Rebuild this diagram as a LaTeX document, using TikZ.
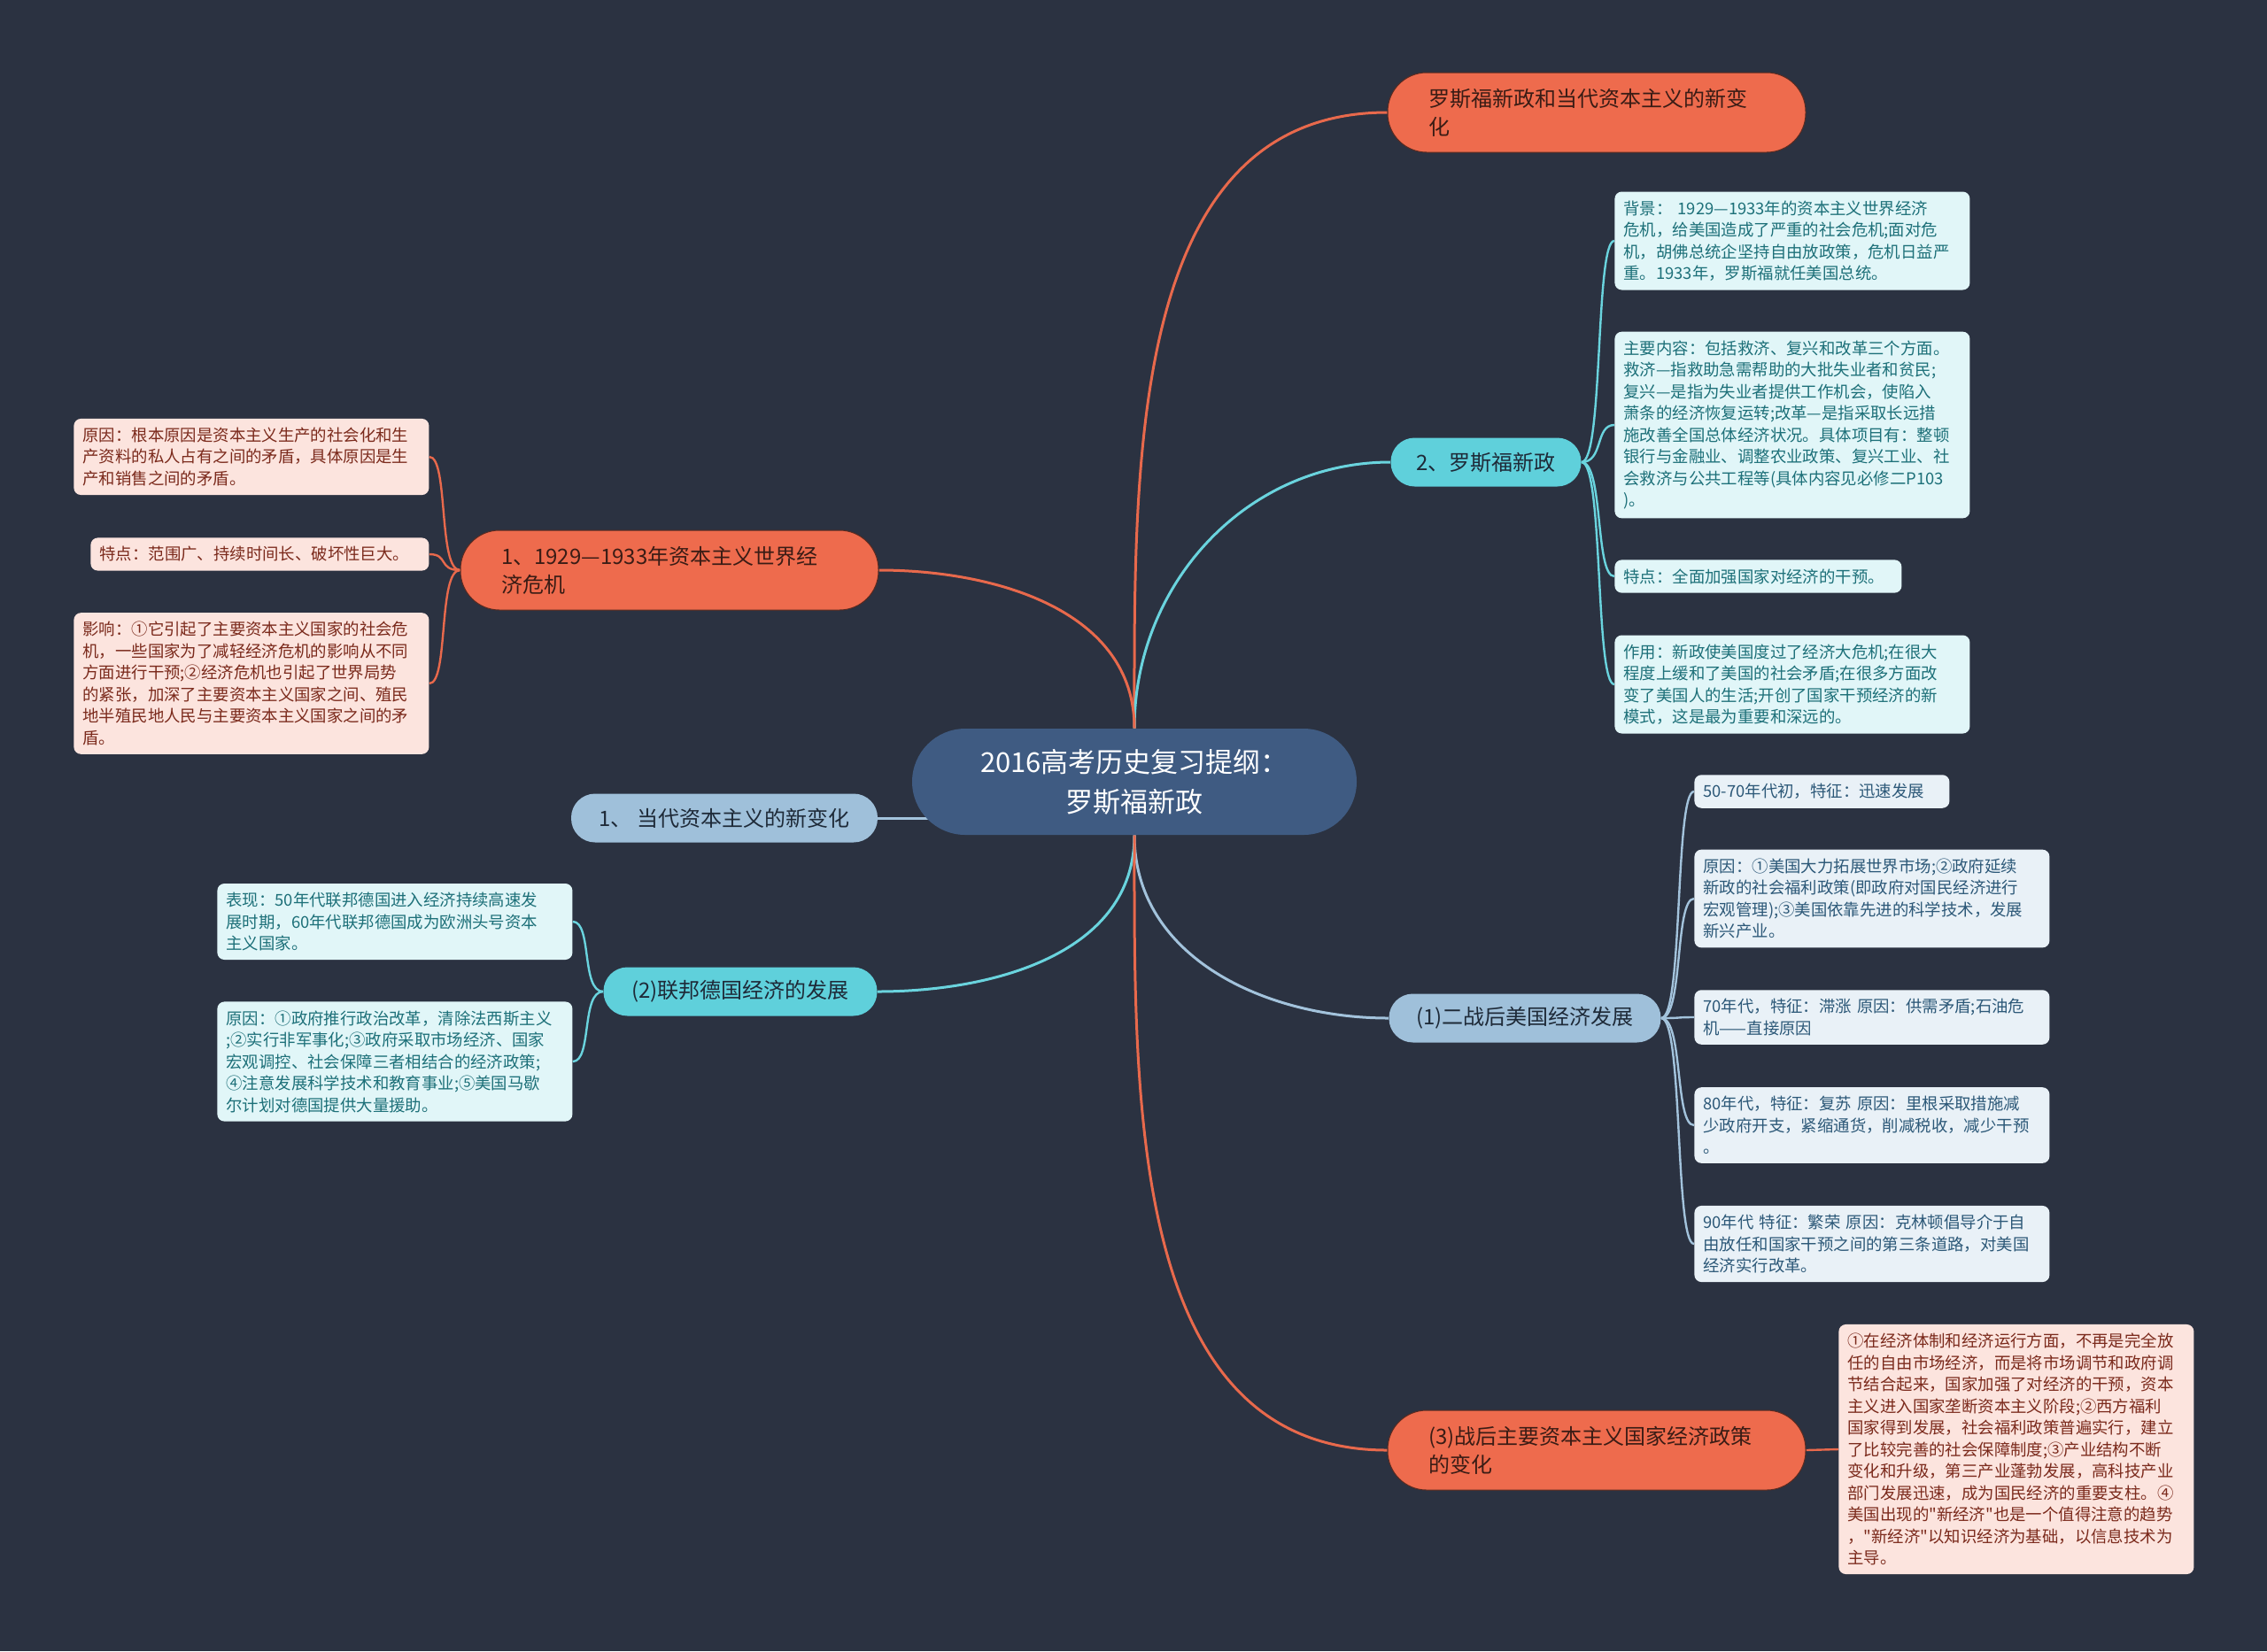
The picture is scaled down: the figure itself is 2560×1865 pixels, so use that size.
\documentclass[tikz,border=0pt]{standalone}
\usepackage{fontspec}
\newfontfamily\zhfont{Noto Sans CJK SC}
\usetikzlibrary{positioning}
\pgfdeclarelayer{bg}
\pgfsetlayers{bg,main}

\definecolor{bgcol}{HTML}{2B3241}
\definecolor{hubfill}{HTML}{3F5B82}
\definecolor{orfill}{HTML}{EE6B4D}
\definecolor{ordraw}{HTML}{5A2A20}
\definecolor{ortext}{HTML}{3A1C15}
\definecolor{cyfill}{HTML}{5FD0DB}
\definecolor{blfill}{HTML}{9FC0DA}
\definecolor{brtext}{HTML}{1E2A38}
\definecolor{pkfill}{HTML}{FCE4DE}
\definecolor{pktext}{HTML}{7B2A1C}
\definecolor{lcfill}{HTML}{E1F6F8}
\definecolor{lctext}{HTML}{1D7079}
\definecolor{lbfill}{HTML}{E9F1F7}
\definecolor{lbtext}{HTML}{2C5878}
\definecolor{orln}{HTML}{E8694C}
\definecolor{cyln}{HTML}{6AD4DE}
\definecolor{blln}{HTML}{A3C3DC}

\newcommand{\lfsize}{\zhfont\fontsize{9.2pt}{12.25pt}\selectfont}
\newcommand{\brsize}{\zhfont\fontsize{12pt}{16pt}\selectfont}
\newcommand{\hubsize}{\zhfont\fontsize{15.5pt}{22.5pt}\selectfont}

\begin{document}
\begin{tikzpicture}[x=0.5pt, y=-0.5pt,
    hub/.style={rounded corners=30pt, fill=hubfill, text=white, font=\hubsize, align=center, minimum width=251pt, minimum height=60pt},
    brO/.style={rounded corners=22pt, fill=orfill, draw=ordraw, line width=0.5pt, text=ortext, font=\brsize, align=left, text width=190pt, inner xsep=23pt, minimum height=45pt},
    brS/.style={rounded corners=13.5pt, text=brtext, font=\brsize, minimum height=27.5pt},
    brC/.style={brS, fill=cyfill},
    brB/.style={brS, fill=blfill},
    leaf/.style={rounded corners=4pt, font=\lfsize, align=left, text width=190.5pt, inner xsep=5pt, inner ysep=5pt, anchor=west},
    lfO/.style={leaf, fill=pkfill, text=pktext},
    lfC/.style={leaf, fill=lcfill, text=lctext},
    lfB/.style={leaf, fill=lbfill, text=lbtext},
    link/.style={line width=1.5pt},
    twig/.style={line width=1.2pt}
]
\useasboundingbox (0,0) rectangle (2560,1865);

% 中心主题
\node[hub] (c) at (1281,883) {2016高考历史复习提纲：\\罗斯福新政};

% 分支
\node[brO] (tr) at (1803,127) {罗斯福新政和当代资本主义的新变\\化};
\node[brC, minimum width=107.5pt] (rn) at (1678,522) {2、罗斯福新政};
\node[brO] (lf) at (756,644) {1、1929—1933年资本主义世界经\\济危机};
\node[brB, minimum width=173pt] (dd) at (818,924) {1、 当代资本主义的新变化};
\node[brC, minimum width=154.5pt] (de) at (836,1120) {(2)联邦德国经济的发展};
\node[brB, minimum width=153.5pt] (us) at (1722,1150) {(1)二战后美国经济发展};
\node[brO] (ch) at (1803,1638) {(3)战后主要资本主义国家经济政策\\的变化};

% 罗斯福新政
\node[lfC] (bj) at (1823,272) {背景： 1929—1933年的资本主义世界经济\\危机，给美国造成了严重的社会危机;面对危\\机，胡佛总统企坚持自由放政策，危机日益严\\重。1933年，罗斯福就任美国总统。};
\node[lfC] (nr) at (1823,480) {主要内容：包括救济、复兴和改革三个方面。\\救济—指救助急需帮助的大批失业者和贫民;\\复兴—是指为失业者提供工作机会，使陷入\\萧条的经济恢复运转;改革—是指采取长远措\\施改善全国总体经济状况。具体项目有：整顿\\银行与金融业、调整农业政策、复兴工业、社\\会救济与公共工程等(具体内容见必修二P103\\)。};
\node[lfC, text width=152pt] (td) at (1823,651) {特点：全面加强国家对经济的干预。};
\node[lfC] (zyo) at (1823,773) {作用：新政使美国度过了经济大危机;在很大\\程度上缓和了美国的社会矛盾;在很多方面改\\变了美国人的生活;开创了国家干预经济的新\\模式，这是最为重要和深远的。};

% 经济危机
\node[lfO] (yy) at (83,516) {原因：根本原因是资本主义生产的社会化和生\\产资料的私人占有之间的矛盾，具体原因是生\\产和销售之间的矛盾。};
\node[lfO, text width=181pt] (tdd) at (102,626) {特点：范围广、持续时间长、破坏性巨大。};
\node[lfO] (yx) at (83,772) {影响：①它引起了主要资本主义国家的社会危\\机，一些国家为了减轻经济危机的影响从不同\\方面进行干预;②经济危机也引起了世界局势\\的紧张，加深了主要资本主义国家之间、殖民\\地半殖民地人民与主要资本主义国家之间的矛\\盾。};

% 联邦德国
\node[lfC] (bx) at (245,1041) {表现：50年代联邦德国进入经济持续高速发\\展时期，60年代联邦德国成为欧洲头号资本\\主义国家。};
\node[lfC] (dyy) at (245,1199) {原因：①政府推行政治改革，清除法西斯主义\\;②实行非军事化;③政府采取市场经济、国家\\宏观调控、社会保障三者相结合的经济政策;\\④注意发展科学技术和教育事业;⑤美国马歇\\尔计划对德国提供大量援助。};

% 二战后美国
\node[lfB, text width=134pt] (u1) at (1913,894) {50-70年代初，特征：迅速发展};
\node[lfB] (u2) at (1913,1015) {原因：①美国大力拓展世界市场;②政府延续\\新政的社会福利政策(即政府对国民经济进行\\宏观管理);③美国依靠先进的科学技术，发展\\新兴产业。};
\node[lfB] (u3) at (1913,1149) {70年代，特征：滞涨 原因：供需矛盾;石油危\\机——直接原因};
\node[lfB] (u4) at (1913,1271) {80年代，特征：复苏 原因：里根采取措施减\\少政府开支，紧缩通货，削减税收，减少干预\\。};
\node[lfB] (u5) at (1913,1405) {90年代 特征：繁荣 原因：克林顿倡导介于自\\由放任和国家干预之间的第三条道路，对美国\\经济实行改革。};

% 政策变化
\node[lfO] (zy) at (2076,1637) {①在经济体制和经济运行方面，不再是完全放\\任的自由市场经济，而是将市场调节和政府调\\节结合起来，国家加强了对经济的干预，资本\\主义进入国家垄断资本主义阶段;②西方福利\\国家得到发展，社会福利政策普遍实行，建立\\了比较完善的社会保障制度;③产业结构不断\\变化和升级，第三产业蓬勃发展，高科技产业\\部门发展迅速，成为国民经济的重要支柱。④\\美国出现的"新经济"也是一个值得注意的趋势\\，"新经济"以知识经济为基础，以信息技术为\\主导。};

\begin{pgfonlayer}{bg}
\fill[bgcol] (0,0) rectangle (2560,1865);
% 主干连线
\draw[link, orln] (c.north) to[out=90, in=180] (tr.west);
\draw[link, cyln] (c.north) to[out=90, in=180] (rn.west);
\draw[link, orln] (c.north) to[out=90, in=0] (lf.east);
\draw[link, blln] (dd.east) -- (dd.east -| c);
\draw[link, cyln] (c.south) to[out=-90, in=0] (de.east);
\draw[link, blln] (c.south) to[out=-90, in=180] (us.west);
\draw[link, orln] (c.south) to[out=-90, in=180] (ch.west);
% 叶子连线
\foreach \n in {bj,nr,td,zyo}
  \draw[twig, cyln] (rn.east) .. controls +(25,0) and +(-22,0) .. (\n.west);
\foreach \n in {yy,tdd,yx}
  \draw[twig, orln] (lf.west) .. controls +(-25,0) and +(22,0) .. (\n.east);
\foreach \n in {bx,dyy}
  \draw[twig, cyln] (de.west) .. controls +(-25,0) and +(22,0) .. (\n.east);
\foreach \n in {u1,u2,u3,u4,u5}
  \draw[twig, blln] (us.east) .. controls +(25,0) and +(-22,0) .. (\n.west);
\draw[twig, orln] (ch.east) -- (zy.west);
\end{pgfonlayer}
\end{tikzpicture}
\end{document}
